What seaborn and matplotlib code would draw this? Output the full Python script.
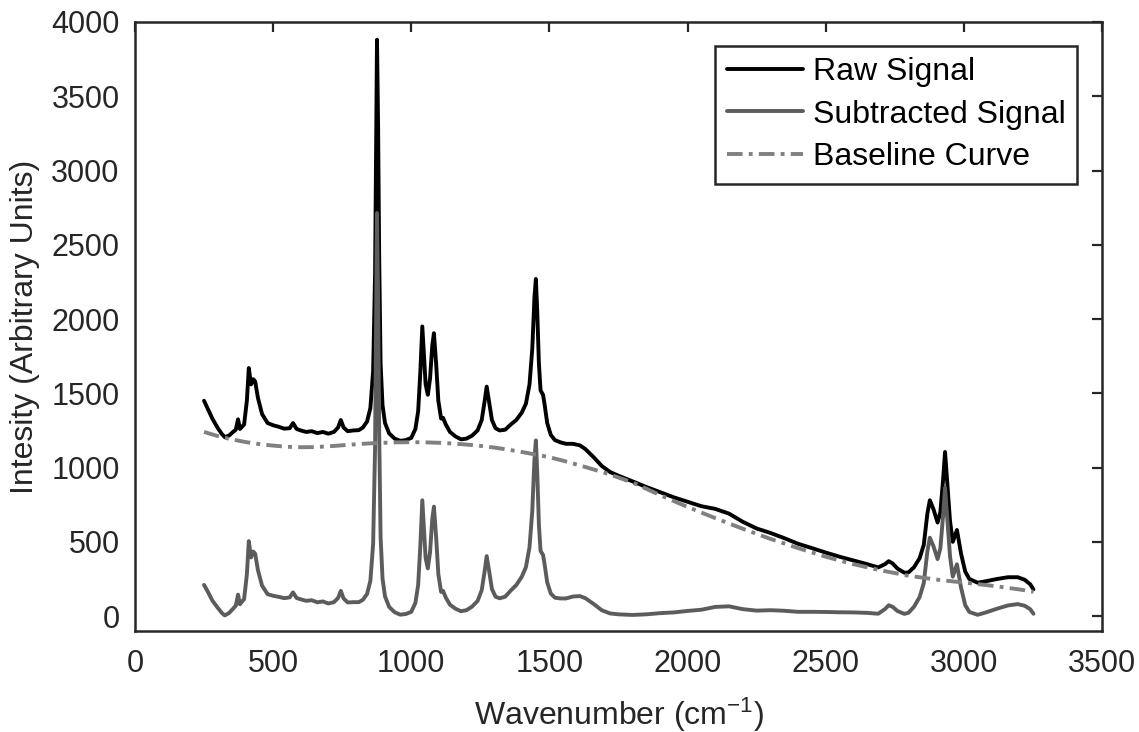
import numpy as np
import pandas as pd
import matplotlib
matplotlib.use("Agg")
import matplotlib.pyplot as plt
import seaborn as sns

# ---- data ----
wavenumber = [250, 265, 280, 300, 315, 325, 340, 355, 365, 373, 380, 395, 405, 412, 420, 428, 435, 445,
              460, 480, 500, 520, 540, 560, 572, 585, 600, 620, 640, 660, 680, 700, 720, 735, 745, 755,
              770, 790, 810, 825, 840, 852, 862, 869, 873, 876, 880, 884, 889, 896, 905, 920, 940, 960,
              980, 1000, 1015, 1025, 1033, 1040, 1046, 1052, 1060, 1068, 1076, 1082, 1090, 1098, 1108,
              1115, 1125, 1140, 1160, 1180, 1200, 1220, 1240, 1255, 1265, 1273, 1282, 1292, 1305, 1320,
              1340, 1360, 1380, 1400, 1415, 1428, 1438, 1446, 1451, 1456, 1462, 1468, 1477, 1483, 1492,
              1505, 1520, 1540, 1560, 1585, 1610, 1630, 1660, 1690, 1720, 1750, 1800, 1850, 1900, 1950,
              2000, 2050, 2100, 2150, 2200, 2250, 2300, 2350, 2400, 2450, 2500, 2550, 2600, 2650, 2690,
              2715, 2728, 2742, 2760, 2785, 2800, 2820, 2840, 2855, 2868, 2877, 2890, 2905, 2915, 2925,
              2932, 2940, 2950, 2960, 2975, 2990, 3005, 3020, 3050, 3080, 3120, 3160, 3195, 3220, 3240, 3252]

raw_signal = [1450, 1390, 1330, 1265, 1225, 1205, 1215, 1240, 1255, 1325, 1260, 1290, 1450, 1670, 1560, 1595, 1580, 1470,
              1360, 1300, 1285, 1275, 1262, 1265, 1300, 1260, 1250, 1240, 1245, 1232, 1240, 1228, 1240, 1270, 1320, 1270,
              1245, 1250, 1252, 1270, 1310, 1400, 1650, 2300, 3200, 3880, 3300, 2400, 1700, 1420, 1300, 1230, 1195, 1180,
              1185, 1200, 1260, 1380, 1650, 1950, 1760, 1560, 1490, 1600, 1820, 1905, 1700, 1450, 1330,
              1335, 1290, 1240, 1210, 1190, 1195, 1215, 1250, 1320, 1440, 1545, 1440, 1320, 1265, 1250,
              1255, 1290, 1320, 1370, 1430, 1560, 1800, 2150, 2270, 2050, 1700, 1520, 1490, 1420, 1300,
              1220, 1185, 1170, 1160, 1160, 1150, 1125, 1070, 1010, 970, 945, 908, 870, 835, 800,
              770, 740, 722, 690, 635, 590, 560, 525, 487, 458, 428, 400, 375, 350, 328,
              350, 370, 355, 320, 292, 295, 330, 390, 480, 690, 780, 720, 630, 700, 920,
              1105, 900, 640, 500, 580, 420, 300, 250, 225, 235, 250, 262, 262, 245, 215, 180]

subtracted_signal = [210, 160, 105, 55, 20, 5, 20, 50, 70, 145, 80, 115, 280, 505, 395, 435, 420, 310,
                     205, 148, 137, 130, 121, 126, 160, 122, 113, 103, 107, 93, 99, 85, 94, 122, 170, 119,
                     92, 94, 94, 110, 149, 237, 486, 1135, 2035, 2714, 2134, 1233, 533, 253, 133, 62, 26, 10,
                     14, 29, 89, 210, 480, 780, 590, 390, 321, 431, 652, 737, 533, 283, 163,
                     170, 125, 77, 50, 33, 40, 64, 102, 175, 295, 404, 302, 183, 131, 120,
                     131, 172, 209, 265, 330, 464, 708, 1060, 1183, 965, 616, 439, 412, 345, 227,
                     152, 124, 119, 119, 132, 135, 121, 82, 39, 18, 12, 8, 12, 20, 25,
                     35, 43, 62, 66, 47, 37, 40, 36, 29, 29, 28, 26, 25, 22, 16,
                     48, 73, 63, 34, 15, 23, 64, 129, 223, 436, 528, 471, 384, 456, 678,
                     864, 661, 403, 266, 349, 191, 74, 28, 9, 25, 50, 72, 81, 70, 47, 16]

baseline_x = [250, 300, 350, 400, 450, 500, 550, 600, 650, 700, 750, 800, 850, 900, 950, 1000, 1050,
              1100, 1150, 1200, 1250, 1300, 1350, 1400, 1450, 1500, 1550, 1600, 1650, 1700, 1750, 1800,
              1850, 1900, 1950, 2000, 2100, 2200, 2300, 2400, 2500, 2600, 2700, 2800, 2900, 3000, 3100,
              3200, 3252]
baseline_curve = [1240, 1212, 1190, 1172, 1158, 1148, 1140, 1137, 1138, 1143, 1150, 1157, 1163, 1167, 1170, 1171, 1170,
                  1167, 1162, 1155, 1146, 1135, 1121, 1105, 1088, 1070, 1046, 1020, 993, 965, 933, 900,
                  858, 815, 775, 735, 660, 588, 520, 458, 400, 350, 308, 272, 246, 226, 205,
                  180, 164]

labels = ["Raw Signal", "Subtracted Signal", "Baseline Curve"]

# ---- styling ----
sns.set_style("white")
plt.rcParams["font.family"] = ["Liberation Sans", "DejaVu Sans"]
plt.rcParams["mathtext.fontset"] = "custom"
plt.rcParams["mathtext.rm"] = "Liberation Sans"
plt.rcParams["mathtext.it"] = "Liberation Sans"

axis_color = "#262626"

fig = plt.figure(figsize=(11.39, 7.32), dpi=100)
ax = fig.add_axes([0.1185, 0.138, 0.849, 0.832])

df_sig = pd.DataFrame({"x": wavenumber, "raw": raw_signal, "sub": subtracted_signal})
df_base = pd.DataFrame({"x": baseline_x, "base": baseline_curve})

sns.lineplot(data=df_sig, x="x", y="raw", ax=ax, color="#000000", linewidth=2.8,
             estimator=None, sort=False, label=labels[0])
sns.lineplot(data=df_sig, x="x", y="sub", ax=ax, color="#5c5c5c", linewidth=2.8,
             estimator=None, sort=False, label=labels[1])
sns.lineplot(data=df_base, x="x", y="base", ax=ax, color="#808080", linewidth=2.8,
             estimator=None, sort=False, label=labels[2])
ax.lines[2].set_dashes((4.0, 1.6, 1.0, 1.6))

ax.set_xlim(0, 3500)
ax.set_ylim(-100, 4000)
ax.set_xticks(np.arange(0, 3501, 500))
ax.set_yticks(np.arange(0, 4001, 500))

ax.tick_params(direction="in", length=7, width=1.6, top=True, right=True,
               labelsize=22, colors=axis_color)
ax.tick_params(axis="x", pad=13)
ax.tick_params(axis="y", pad=11)
for sp in ax.spines.values():
    sp.set_color(axis_color)
    sp.set_linewidth(1.8)
    sp.set_visible(True)

ax.set_xlabel("Wavenumber (cm$^{-1}$)", fontsize=23, color=axis_color, labelpad=12)
ax.set_ylabel("Intesity (Arbitrary Units)", fontsize=23, color=axis_color, labelpad=8)

leg = ax.legend(loc="upper right", bbox_to_anchor=(0.974, 0.961), borderaxespad=0,
                fontsize=23, frameon=True, fancybox=False, framealpha=1,
                handlelength=2.4, handletextpad=0.3, labelspacing=0.4,
                borderpad=0.35)
leg.get_frame().set_edgecolor(axis_color)
leg.get_frame().set_linewidth(1.8)
for t in leg.get_texts():
    t.set_color("#000000")

fig.savefig("out.png", dpi=100)
